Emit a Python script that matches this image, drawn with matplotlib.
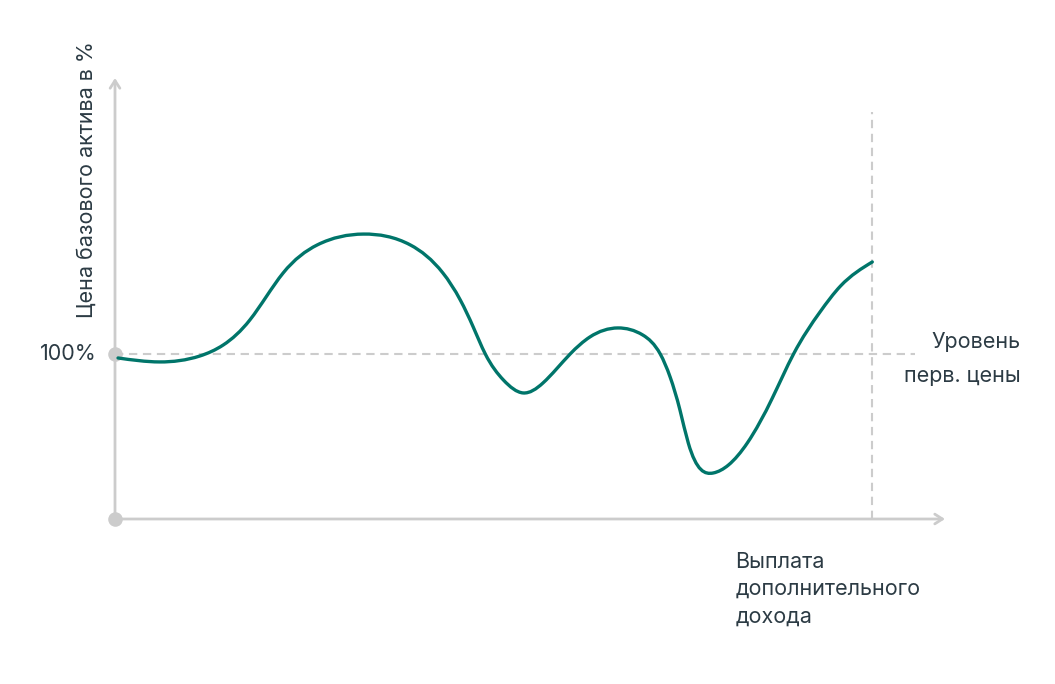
import numpy as np
import matplotlib
matplotlib.use("Agg")
import matplotlib.pyplot as plt
from matplotlib.path import Path
from matplotlib.patches import PathPatch

# ---- data (x: time, % of period to payment date; y: underlying price, % of initial) ----
time_pts = [0.4, 5.9, 11.2, 14.3, 17.8, 22.2, 26.7, 32.8, 39.0, 43.3, 45.6, 47.3,
            48.9, 51.3, 53.9, 56.5, 60.1, 62.7, 66.4, 69.7, 72.0, 73.3, 74.6, 75.7,
            79.0, 81.0, 83.5, 86.8, 89.6, 93.1, 95.8, 100.0]
price_pts = [97.6, 95.2, 98.8, 105.5, 120.6, 149.1, 166.1, 172.7, 166.1, 149.1, 132.7, 116.4,
             100.0, 84.2, 76.4, 82.4, 100.0, 110.3, 115.8, 111.5, 100.0, 86.1, 66.1, 46.1,
             27.9, 32.7, 46.1, 73.3, 100.0, 125.5, 141.2, 155.8]
initial_level = 100
payment_time = 100
ylabel = "Цена базового актива в %"
level_label = "Уровень\nперв. цены"
payment_label = "Выплата\nдополнительного\nдохода"
tick_label = "100%"

W, H = 1055, 684
fig = plt.figure(figsize=(W / 100, H / 100), dpi=100)
plt.rcParams['font.family'] = ['Inter', 'DejaVu Sans']

# axes: origin at pixel (115,519), x to 945, y up to 78
ax = fig.add_axes([115 / W, (H - 519) / H, 830 / W, 441 / H])
xmax, ymax = 109.6, 267.3
ax.set_xlim(0, xmax)
ax.set_ylim(0, ymax)
ax.axis('off')

axis_col = '#cccccc'
text_col = '#2c3b44'
line_col = '#00756a'

# axes arrows
arrow = dict(arrowstyle='->,head_length=0.55,head_width=0.35', color=axis_col, lw=2,
             shrinkA=0, shrinkB=0)
ax.annotate('', xy=(xmax, 0), xytext=(0, 0), arrowprops=arrow, annotation_clip=False)
ax.annotate('', xy=(0, ymax), xytext=(0, 0), arrowprops=arrow, annotation_clip=False)

# dashed reference lines
ax.plot([0, 105.7], [initial_level, initial_level], color=axis_col, lw=1.5,
        dashes=(4, 2.7), clip_on=False, zorder=1)
ax.plot([payment_time, payment_time], [0, 246.7], color=axis_col, lw=1.5,
        dashes=(4, 2.7), clip_on=False, zorder=1)

# dots
ax.scatter([0, 0], [0, initial_level], s=110, color=axis_col, zorder=3, clip_on=False,
           linewidths=0)

# smooth curve: natural cubic spline tangents through the read points,
# drawn by matplotlib as a cubic Bezier path
x = np.asarray(time_pts, float)
y = np.asarray(price_pts, float)
n = len(x)
h = np.diff(x)
A = np.zeros((n, n))
r = np.zeros(n)
for k in range(1, n - 1):
    A[k, k - 1] = h[k]
    A[k, k] = 2 * (h[k - 1] + h[k])
    A[k, k + 1] = h[k - 1]
    r[k] = 3 * (h[k] * (y[k] - y[k - 1]) / h[k - 1] + h[k - 1] * (y[k + 1] - y[k]) / h[k])
A[0, 0] = 2; A[0, 1] = 1; r[0] = 3 * (y[1] - y[0]) / h[0]
A[-1, -2] = 1; A[-1, -1] = 2; r[-1] = 3 * (y[-1] - y[-2]) / h[-1]
m = np.linalg.solve(A, r)

verts = [(x[0], y[0])]
codes = [Path.MOVETO]
for k in range(n - 1):
    verts += [(x[k] + h[k] / 3, y[k] + m[k] * h[k] / 3),
              (x[k + 1] - h[k] / 3, y[k + 1] - m[k + 1] * h[k] / 3),
              (x[k + 1], y[k + 1])]
    codes += [Path.CURVE4] * 3
patch = PathPatch(Path(verts, codes), facecolor='none', edgecolor=line_col, lw=2.4,
                  zorder=4, clip_on=False, capstyle='round', joinstyle='round')
ax.add_patch(patch)

# texts
fs = 15.5
ax.text(-2.4, initial_level, tick_label, ha='right', va='center', fontsize=fs, color=text_col)
ax.text(-3.7, 205.5, ylabel, rotation=90, ha='center', va='center', fontsize=fs, color=text_col)
ax.text((1020 - 115) / 7.57, 97, level_label, ha='right', va='center',
        fontsize=fs, color=text_col, linespacing=1.9, multialignment='right')
ax.text((735 - 115) / 7.57, -20, payment_label, ha='left', va='top', fontsize=fs,
        color=text_col, linespacing=1.45)

fig.savefig('out.png', dpi=100)
